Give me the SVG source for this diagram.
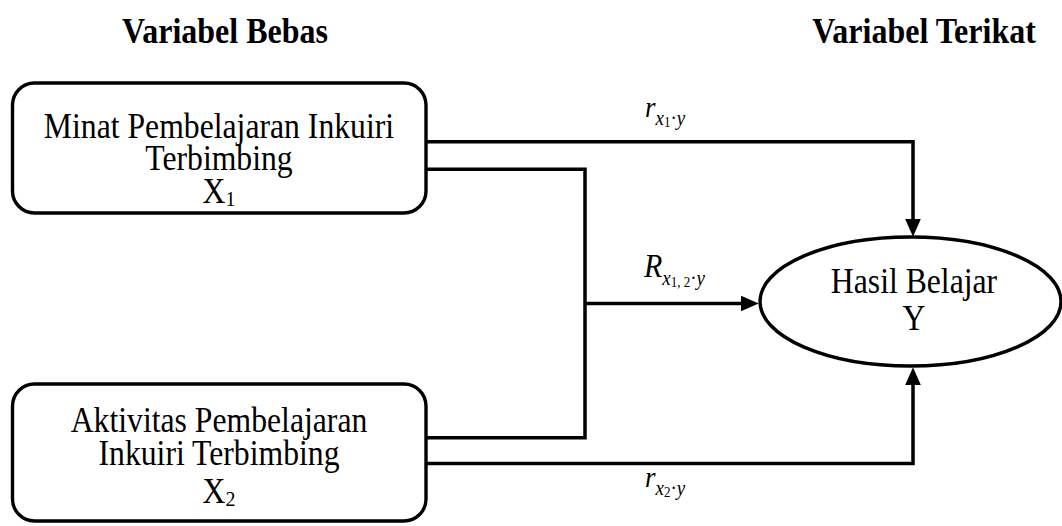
<svg xmlns="http://www.w3.org/2000/svg" width="1062" height="526" viewBox="0 0 1062 526">
  <style>
    .box { fill: #ffffff; stroke: #000000; stroke-width: 3.4; }
    .wire { fill: none; stroke: #000000; stroke-width: 3.5; stroke-linejoin: miter; stroke-linecap: butt; }
    .t { font-family: "Liberation Serif", "Times New Roman", serif; font-size: 31.7px; fill: #000000; text-anchor: middle; }
    .head { font-family: "Liberation Serif", "Times New Roman", serif; font-size: 32px; font-weight: bold; fill: #000000; text-anchor: middle; }
    .lbl { font-family: "Liberation Serif", "Times New Roman", serif; font-style: italic; fill: #000000; }
    .big { font-size: 27px; }
    .sub { font-size: 19px; }
    .idx { font-size: 13px; font-style: normal; }
  </style>
  <defs>
    <marker id="arrow" markerUnits="userSpaceOnUse" markerWidth="18" markerHeight="16" viewBox="0 0 17 15" refX="5" refY="7.5" orient="auto">
      <path d="M0,0 L17,7.5 L0,15 z" fill="#000000"/>
    </marker>
  </defs>

  <!-- column headings -->
  <text class="head" transform="translate(225 43) scale(1 1.1)">Variabel Bebas</text>
  <text class="head" transform="translate(924 43) scale(1 1.1)">Variabel Terikat</text>

  <!-- connectors -->
  <g id="connectors">
    <path class="wire" d="M426,141.7 H913 V224" marker-end="url(#arrow)"/>
    <path class="wire" d="M426,169.3 H585 V437.7 H426"/>
    <path class="wire" d="M585,303.5 H746" marker-end="url(#arrow)"/>
    <path class="wire" d="M426,463.5 H913 V380" marker-end="url(#arrow)"/>
  </g>

  <!-- path coefficient labels -->
  <g id="labels">
    <text class="lbl" transform="translate(645 117) scale(1 1.1)"><tspan class="big">r</tspan><tspan class="sub" dy="7.3">x</tspan><tspan class="idx" dy="1.8">1</tspan><tspan class="sub" font-style="normal" dy="-1.8">·</tspan><tspan class="sub">y</tspan></text>
    <text class="lbl" transform="translate(644 277) scale(1 1.1)"><tspan font-size="30">R</tspan><tspan class="sub" dy="7.3">x</tspan><tspan class="idx" dy="1.8">1, 2</tspan><tspan class="sub" font-style="normal" dy="-1.8">·</tspan><tspan class="sub">y</tspan></text>
    <text class="lbl" transform="translate(645 487) scale(1 1.1)"><tspan class="big">r</tspan><tspan class="sub" dy="7.3">x</tspan><tspan class="idx" dy="1.8">2</tspan><tspan class="sub" font-style="normal" dy="-1.8">·</tspan><tspan class="sub">y</tspan></text>
  </g>

  <!-- independent variable X1 -->
  <g id="x1">
    <rect class="box" x="12.5" y="83" width="413.5" height="130" rx="22" ry="22"/>
    <text class="t" transform="translate(219 138) scale(1 1.1)">Minat Pembelajaran Inkuiri</text>
    <text class="t" transform="translate(219 170) scale(1 1.1)">Terbimbing</text>
    <text class="t" transform="translate(219 203) scale(1 1.1)">X<tspan font-size="20" dy="2.7">1</tspan></text>
  </g>

  <!-- independent variable X2 -->
  <g id="x2">
    <rect class="box" x="12.5" y="384" width="413.5" height="137" rx="22" ry="22"/>
    <text class="t" transform="translate(219 432) scale(1 1.1)">Aktivitas Pembelajaran</text>
    <text class="t" transform="translate(219 465) scale(1 1.1)">Inkuiri Terbimbing</text>
    <text class="t" transform="translate(219 503) scale(1 1.1)">X<tspan font-size="20" dy="2.7">2</tspan></text>
  </g>

  <!-- dependent variable Y -->
  <g id="y">
    <ellipse class="box" cx="910.5" cy="301.5" rx="150.5" ry="64.5"/>
    <text class="t" transform="translate(914 293) scale(1 1.1)">Hasil Belajar</text>
    <text class="t" transform="translate(914 330) scale(1 1.1)">Y</text>
  </g>
</svg>
